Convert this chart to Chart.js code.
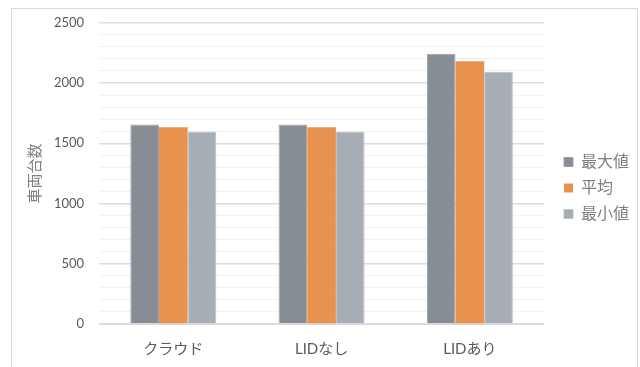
<!DOCTYPE html>
<html>
<head>
<meta charset="utf-8">
<script src="https://cdn.jsdelivr.net/npm/chart.js@4/dist/chart.umd.min.js"></script>
<style>
    html, body { margin: 0; padding: 0; background: #fff; }
    #wrap { position: relative; width: 640px; height: 367px; overflow: hidden; }
    #frame { position: absolute; left: 11px; top: 8px; width: 625px; height: 400px; border: 1px solid #d9d9d9; }
    #chart { position: absolute; left: 0; top: 0; }
</style>
</head>
<body>
<div id="wrap">
    <div id="frame"></div>
    <canvas id="chart" width="640" height="366"></canvas>
</div>
<script>
// categories and series
var categories = ['クラウド', 'LIDなし', 'LIDあり'];
var maxVals = [1656, 1656, 2243];
var avgVals = [1633, 1633, 2180];
var minVals = [1598, 1598, 2094];
var seriesNames = ['最大値', '平均', '最小値'];
var yTitle = '車両台数';

var fontFamily = 'Lato, "Noto Sans CJK JP", sans-serif';

// nudge the legend a little away from the plot
var legendShift = {
    id: 'legendShift',
    afterLayout: function(chart) {
        var lg = chart.legend;
        if (!lg) return;
        lg.left += 10;
        lg.right += 10;
        lg.top -= 2;
        lg.bottom -= 2;
    }
};

var ctx = document.getElementById('chart');
var myChart = new Chart(ctx, {
    type: 'bar',
    data: {
        labels: categories,
        datasets: [{
            label: seriesNames[0],
            data: maxVals,
            backgroundColor: '#878d94',
            borderColor: '#9aa0a6',
            borderWidth: 1
        }, {
            label: seriesNames[1],
            data: avgVals,
            backgroundColor: '#e8924f',
            borderWidth: 0
        }, {
            label: seriesNames[2],
            data: minVals,
            backgroundColor: '#a6adb4',
            borderColor: '#bcc1c6',
            borderWidth: 1
        }]
    },
    options: {
        responsive: false,
        animation: false,
        layout: { padding: { left: 26, right: 11, top: 14, bottom: 0 } },
        datasets: {
            bar: { barPercentage: 1.0, categoryPercentage: 0.58 }
        },
        plugins: {
            tooltip: { enabled: false },
            legend: {
                position: 'right',
                labels: {
                    boxWidth: 9,
                    boxHeight: 9,
                    padding: 10,
                    color: '#7f7f7f',
                    font: { family: fontFamily, size: 16 }
                }
            }
        },
        scales: {
            x: {
                grid: { display: false },
                border: { color: '#d9d9d9' },
                ticks: {
                    color: '#595959',
                    padding: 8,
                    font: { family: fontFamily, size: 15 }
                }
            },
            y: {
                min: 0,
                max: 2500,
                grid: {
                    drawTicks: false,
                    color: function(c) {
                        return c.tick.value % 500 === 0 ? '#dcdde3' : '#f1f1f3';
                    },
                    lineWidth: function(c) {
                        return c.tick.value % 500 === 0 ? 1.5 : 1;
                    }
                },
                border: { display: false },
                ticks: {
                    stepSize: 100,
                    autoSkip: false,
                    padding: 15,
                    color: '#595959',
                    font: { family: fontFamily, size: 13 },
                    callback: function(v) {
                        return v % 500 === 0 ? v : '';
                    }
                },
                title: {
                    display: true,
                    text: yTitle,
                    color: '#7f7f7f',
                    padding: { top: 0, bottom: -5 },
                    font: { family: fontFamily, size: 15 }
                }
            }
        }
    },
    plugins: [legendShift]
});
</script>
</body>
</html>
